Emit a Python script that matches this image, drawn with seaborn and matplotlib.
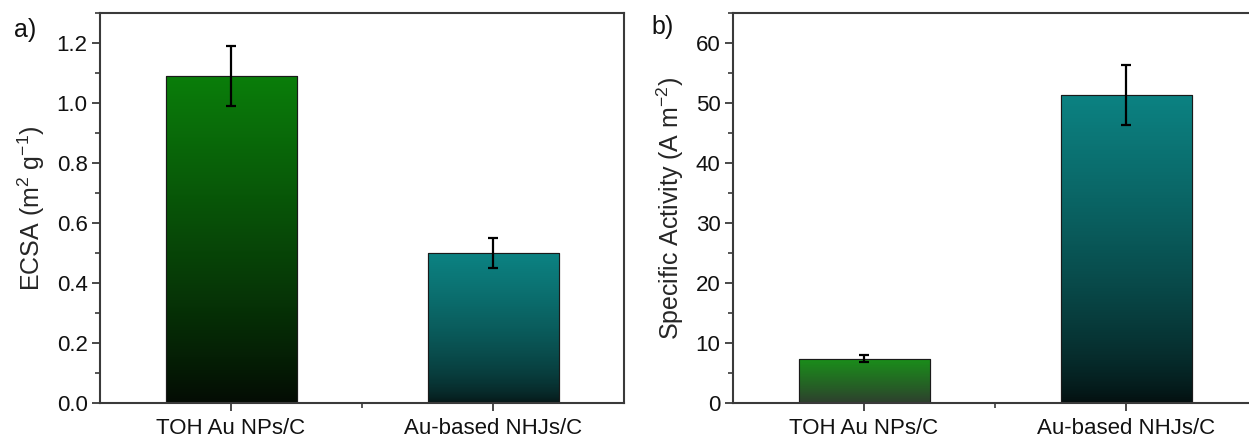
import numpy as np
import pandas as pd
import matplotlib
matplotlib.use("Agg")
import matplotlib.pyplot as plt
import seaborn as sns
from matplotlib.colors import LinearSegmentedColormap
from matplotlib.ticker import MultipleLocator, FormatStrFormatter

# ---- data ----
categories = ["TOH Au NPs/C", "Au-based NHJs/C"]
ecsa_values = [1.09, 0.50]
ecsa_errors = [0.10, 0.05]
activity_values = [7.4, 51.4]
activity_errors = [0.6, 5.0]

sns.set_theme(style="white")
plt.rcParams["font.family"] = ["Liberation Sans", "DejaVu Sans"]
plt.rcParams["mathtext.fontset"] = "custom"
plt.rcParams["mathtext.rm"] = "Liberation Sans"
plt.rcParams["mathtext.it"] = "Liberation Sans"

fig = plt.figure(figsize=(12.49, 4.40), dpi=100)
W, H = 1249, 440
ax1 = fig.add_axes([100 / W, 1 - 403 / H, 524 / W, 390 / H])
ax2 = fig.add_axes([733 / W, 1 - 403 / H, 524 / W, 390 / H])

spine_col = "#3a3a3a"

def gradient_bars(ax, values, errors, ylim, major, minor, ylabel, grads):
    df = pd.DataFrame({"cat": categories, "val": values})
    sns.barplot(data=df, x="cat", y="val", ax=ax, width=0.5, color="white",
                edgecolor="#1a1a1a", linewidth=0.8, errorbar=None)
    ax.set_ylim(*ylim)
    ax.set_xlim(-0.5, 1.5)
    for patch, (top, bot, gamma) in zip(ax.patches, grads):
        x0, y0 = patch.get_x(), patch.get_y()
        w, h = patch.get_width(), patch.get_height()
        cmap = LinearSegmentedColormap.from_list("g", [bot, top])
        grad = np.linspace(0, 1, 256).reshape(-1, 1) ** gamma
        im = ax.imshow(grad, cmap=cmap, aspect="auto", origin="lower",
                       extent=[x0, x0 + w, y0, y0 + h], zorder=patch.get_zorder() + 0.1,
                       interpolation="bilinear")
        im.set_clip_path(patch)
        ax.add_patch(plt.Rectangle((x0, y0), w, h, fill=False, edgecolor="#1a1a1a",
                                   linewidth=0.8, zorder=patch.get_zorder() + 0.2))
    ax.errorbar(range(len(values)), values, yerr=errors, fmt="none",
                ecolor="black", elinewidth=1.6, capsize=3.4, capthick=1.6, zorder=5)
    ax.set_xlim(-0.5, 1.5)
    ax.set_xlabel("")
    ax.set_ylabel(ylabel, fontsize=18, labelpad=7)
    ax.yaxis.set_major_locator(MultipleLocator(major))
    ax.yaxis.set_minor_locator(MultipleLocator(minor))
    ax.set_xticks([0, 1])
    ax.set_xticks([0.5], minor=True)
    ax.set_xticklabels(categories)
    ax.tick_params(axis="both", which="major", direction="out", length=6, width=1.3,
                   color=spine_col, labelsize=16, pad=3, bottom=True, left=True,
                   labelcolor="#111111")
    ax.tick_params(axis="both", which="minor", direction="out", length=3.5, width=1.2,
                   color=spine_col, bottom=True, left=True)
    ax.tick_params(axis="x", which="major", labelsize=16, pad=5)
    for s in ax.spines.values():
        s.set_visible(True)
        s.set_color(spine_col)
        s.set_linewidth(1.5)

gradient_bars(ax1, ecsa_values, ecsa_errors, (0, 1.3), 0.2, 0.1,
              r"ECSA (m$^\mathregular{2}$ g$^\mathregular{-1}$)",
              [("#0a7d0a", "#040c04", 0.9), ("#0c8282", "#061414", 0.6)])
ax1.yaxis.set_major_formatter(FormatStrFormatter("%.1f"))

gradient_bars(ax2, activity_values, activity_errors, (0, 65), 10, 5,
              r"Specific Activity (A m$^\mathregular{-2}$)",
              [("#1a8f1a", "#2e3e2e", 0.9), ("#0c8282", "#040e0e", 0.7)])

fig.text(14 / W, 1 - 30 / H, "a)", fontsize=18, va="center", ha="left", color="#111111")
fig.text(651 / W, 1 - 27 / H, "b)", fontsize=18, va="center", ha="left", color="#111111")

fig.savefig("out.png", dpi=100)
